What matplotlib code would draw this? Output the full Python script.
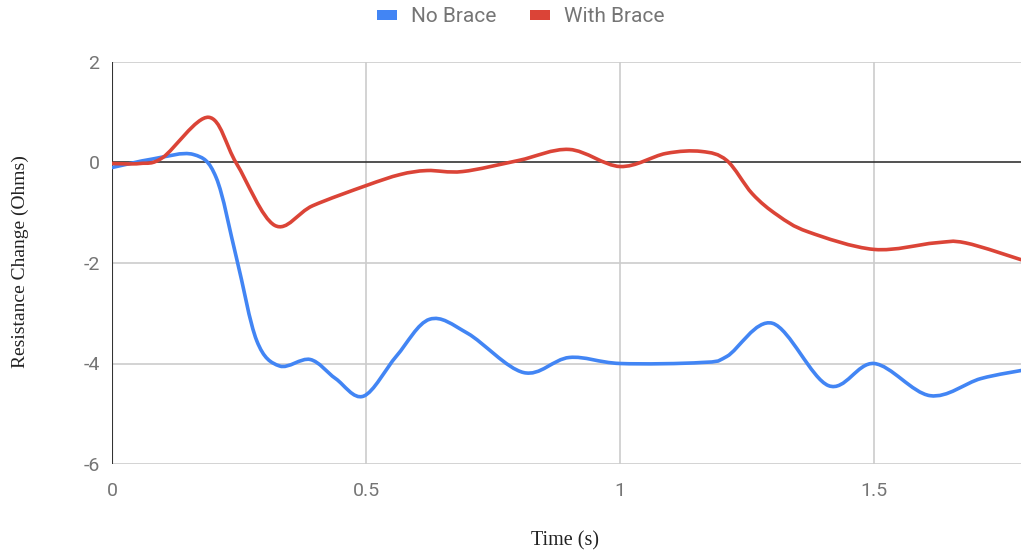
import numpy as np
import matplotlib
matplotlib.use("Agg")
import matplotlib.pyplot as plt
from matplotlib.path import Path
from matplotlib.patches import PathPatch, Patch

# values
no_brace_t = [0, 0.08, 0.16, 0.205, 0.245, 0.285, 0.33, 0.39, 0.44, 0.495, 0.56,
              0.625, 0.7, 0.81, 0.9, 1.0, 1.16, 1.21, 1.3, 1.41, 1.5, 1.61, 1.71, 1.8]
no_brace_v = [-0.1, 0.07, 0.16, -0.3, -1.9, -3.55, -4.05, -3.92, -4.3, -4.65, -3.85,
              -3.12, -3.4, -4.18, -3.88, -4.0, -3.98, -3.86, -3.2, -4.44, -4.0, -4.64, -4.3, -4.12]

with_brace_t = [0, 0.055, 0.1, 0.19, 0.245, 0.32, 0.395, 0.5, 0.567, 0.62,
                0.69, 0.8, 0.9, 1.0, 1.09, 1.16, 1.21, 1.26, 1.31, 1.37, 1.5, 1.62, 1.68, 1.8]
with_brace_v = [-0.02, -0.02, 0.1, 0.9, -0.02, -1.25, -0.86, -0.46, -0.24, -0.16,
                -0.18, 0.04, 0.26, -0.08, 0.18, 0.22, 0.04, -0.62, -1.05, -1.38, -1.73, -1.6, -1.6, -1.97]

series = [("No Brace", no_brace_t, no_brace_v, "#4285F4"),
          ("With Brace", with_brace_t, with_brace_v, "#DB4437")]

x_ticks = [0, 0.5, 1, 1.5]
x_labels = ["0", "0.5", "1", "1.5"]
y_ticks = [-6, -4, -2, 0, 2]


def smooth_path(xs, ys):
    # catmull-rom style bezier, like google charts curveType 'function'
    p = np.column_stack([xs, ys]).astype(float)
    p_ext = np.vstack([p[0], p, p[-1]])
    verts = [p[0]]
    codes = [Path.MOVETO]
    for i in range(len(p) - 1):
        p0, p1, p2, p3 = p_ext[i], p_ext[i + 1], p_ext[i + 2], p_ext[i + 3]
        c1 = p1 + (p2 - p0) / 6.0
        c2 = p2 - (p3 - p1) / 6.0
        verts += [c1, c2, p2]
        codes += [Path.CURVE4] * 3
    return Path(verts, codes)


plt.rcParams['font.family'] = ['Roboto', 'DejaVu Sans']
plt.rcParams['axes.unicode_minus'] = False

fig = plt.figure(figsize=(10.21, 5.58), dpi=100)
ax = fig.add_axes([112 / 1021, 1 - 464 / 558, 1 - 112 / 1021, (464 - 62) / 558])

ax.set_xlim(0, 1.789)
ax.set_ylim(-6, 2)

for xt in x_ticks[1:]:
    ax.axvline(xt, color="#cccccc", lw=1.2, zorder=1)
for yt in y_ticks:
    if yt != 0:
        ax.axhline(yt, color="#cccccc", lw=1.2, zorder=1)
ax.axhline(0, color="#333333", lw=1.2, zorder=2)
ax.axvline(0, color="#333333", lw=1.5, zorder=2)

for name, t, v, col in series:
    ax.add_patch(PathPatch(smooth_path(t, v), facecolor="none", edgecolor=col,
                           lw=2.6, zorder=3, capstyle="round", joinstyle="round"))

for s in ax.spines.values():
    s.set_visible(False)

ax.set_xticks(x_ticks)
ax.set_xticklabels(x_labels)
ax.set_yticks(y_ticks)
ax.tick_params(axis="both", length=0, labelsize=14, labelcolor="#757575")
ax.tick_params(axis="x", pad=13)
ax.tick_params(axis="y", pad=9)

fig.text(565 / 1021, 1 - 541 / 558, "Time (s)", ha="center", va="center",
         family="Liberation Serif", fontsize=14.5, color="#222222")
fig.text(20 / 1021, 1 - 262 / 558, "Resistance Change (Ohms)", ha="center", va="center",
         rotation=90, family="Liberation Serif", fontsize=14, color="#222222")

handles = [Patch(facecolor=col, edgecolor="none", label=name) for name, _, _, col in series]
fig.legend(handles=handles, loc="center", bbox_to_anchor=(521 / 1021, 1 - 17 / 558),
           ncol=2, frameon=False, fontsize=15, labelcolor="#757575",
           handlelength=0.95, handleheight=0.4, handletextpad=0.7, columnspacing=1.6)

fig.savefig("out.png", dpi=100)
